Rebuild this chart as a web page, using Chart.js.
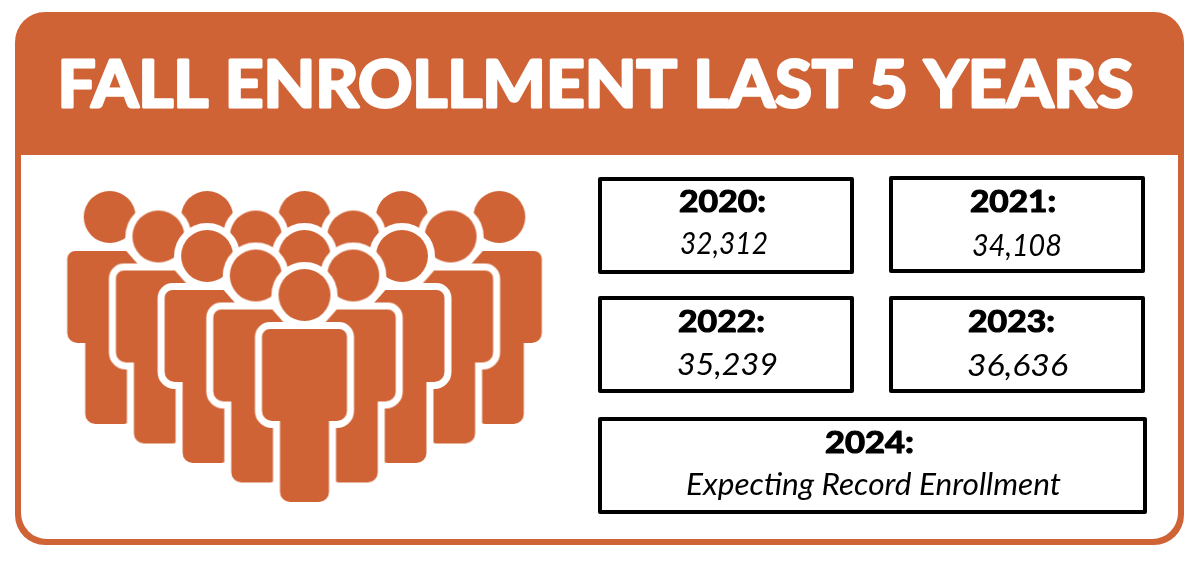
<!DOCTYPE html>
<html>
<head>
<meta charset="utf-8">
<title>Fall Enrollment Last 5 Years</title>
<script src="https://cdn.jsdelivr.net/npm/chart.js@4"></script>
<style>
  html, body { margin: 0; padding: 0; background: #fff; }
  canvas { display: block; }
</style>
</head>
<body>
<canvas id="chart" width="1200" height="564"></canvas>
<script>
// ---- DATA ----
const titleText = 'FALL ENROLLMENT LAST 5 YEARS';
const years = ['2020', '2021', '2022', '2023', '2024'];
const enrollment = [32312, 34108, 35239, 36636, null];
const notes = ['', '', '', '', 'Expecting Record Enrollment'];

// ---- LAYOUT (axis units = page pixels) ----
const ORANGE = '#d06335';
const cards = [
  { x0: 600, x1: 852, y0: 179, y1: 272, yearX: 722.5, yearY: 212, yearW: 87, valX: 724, valY: 254, valW: 88 },
  { x0: 891, x1: 1143, y0: 178, y1: 271, yearX: 1013, yearY: 212, yearW: 86, valX: 1017, valY: 256, valW: 90 },
  { x0: 600, x1: 852, y0: 298, y1: 391, yearX: 721.5, yearY: 332, yearW: 87, valX: 727.5, valY: 375, valW: 101 },
  { x0: 891, x1: 1143, y0: 298, y1: 391, yearX: 1011.5, yearY: 332, yearW: 87, valX: 1017.5, valY: 376, valW: 101 },
  { x0: 600, x1: 1145, y0: 419, y1: 512, yearX: 869.5, yearY: 453, yearW: 89, valX: 873.5, valY: 495, valW: 375 }
];
// crowd rows, back to front. col is in steps from the middle person
const crowdRows = [
  { y: 217, cols: [-4, -2, 0, 2, 4] },
  { y: 236.5, cols: [-3, -1, 1, 3] },
  { y: 256, cols: [-2, 0, 2] },
  { y: 275.5, cols: [-1, 1] },
  { y: 295, cols: [0] }
];
const CROWD_MID = 304.5;
const CROWD_STEP = 48.7;

// ---- PERSON ICONS ----
// kind: 'left' / 'right' have the inner shoulder cut, 'mid' is whole, 'head' has no body
function personIcon(kind) {
  const c = document.createElement('canvas');
  c.width = 130;
  c.height = 440;
  const g = c.getContext('2d');
  g.translate(65, 220);
  if (kind === 'right') g.scale(-1, 1);

  const p = new Path2D();
  p.arc(0, 0, 26, 0, Math.PI * 2);
  if (kind !== 'head') {
    const b = new Path2D();
    b.moveTo(-24.5, 126);
    b.lineTo(-33, 126);
    b.arcTo(-42.5, 126, -42.5, 116, 10);
    b.lineTo(-42.5, 42);
    b.arcTo(-42.5, 34, -34, 34, 8);
    if (kind === 'mid') {
      b.lineTo(34, 34);
      b.arcTo(42.5, 34, 42.5, 42, 8);
      b.lineTo(42.5, 116);
      b.arcTo(42.5, 126, 33, 126, 10);
    } else {
      b.lineTo(16.5, 34);
      b.lineTo(28, 47);
      b.lineTo(28, 126);
    }
    b.lineTo(24.5, 126);
    b.lineTo(24.5, 197);
    b.arcTo(24.5, 207, 14.5, 207, 10);
    b.lineTo(-14.5, 207);
    b.arcTo(-24.5, 207, -24.5, 197, 10);
    b.closePath();
    p.addPath(b);
  }
  g.strokeStyle = '#fff';
  g.lineWidth = 14;
  g.lineJoin = 'round';
  g.stroke(p);
  g.fillStyle = ORANGE;
  g.fill(p);
  return c;
}

const icons = {
  left: personIcon('left'),
  right: personIcon('right'),
  mid: personIcon('mid'),
  head: personIcon('head')
};

// only the outer two diagonals show a body, the others are heads behind them
function crowdIcon(row, col) {
  const onDiagonal = Math.abs(col) === 4 - row;
  if (!onDiagonal) return icons.head;
  if (col === 0) return icons.mid;
  return col < 0 ? icons.left : icons.right;
}

const crowdPoints = [];
const crowdStyles = [];
crowdRows.forEach((r, i) => {
  r.cols.forEach(col => {
    crowdPoints.push({ x: CROWD_MID + col * CROWD_STEP, y: r.y });
    crowdStyles.push(crowdIcon(i, col));
  });
});

// ---- DRAWING HELPERS ----
// squeezes or stretches text to the width it has in the picture, x is its middle
function fitText(ctx, text, x, y, width, thicken) {
  ctx.textAlign = 'center';
  const w = ctx.measureText(text).width;
  ctx.save();
  ctx.translate(x, y);
  ctx.scale(width / w, 1);
  ctx.fillText(text, 0, 0);
  if (thicken) {
    ctx.lineWidth = thicken;
    ctx.strokeText(text, 0, 0);
  }
  ctx.restore();
}

const panelPlugin = {
  id: 'panel',
  beforeDatasetsDraw(chart) {
    const { ctx, scales: { x, y } } = chart;
    const X = v => x.getPixelForValue(v);
    const Y = v => y.getPixelForValue(v);
    ctx.save();

    // frame and header band
    ctx.fillStyle = ORANGE;
    ctx.beginPath();
    ctx.roundRect(X(15), Y(12), X(1184) - X(15), Y(545) - Y(12), 30);
    ctx.fill();
    ctx.fillStyle = '#fff';
    ctx.beginPath();
    ctx.roundRect(X(21), Y(155), X(1178) - X(21), Y(539) - Y(155), [0, 0, 26, 26]);
    ctx.fill();

    // title, thickened with a stroke since no black weight is around
    ctx.fillStyle = '#fff';
    ctx.strokeStyle = '#fff';
    ctx.lineJoin = 'round';
    ctx.font = 'bold 65px Lato';
    ctx.textBaseline = 'alphabetic';
    fitText(ctx, titleText, X(595.5), Y(107), 1076, 3);

    // cards
    years.forEach((yr, i) => {
      const c = cards[i];
      ctx.strokeStyle = '#000';
      ctx.lineWidth = 4;
      ctx.strokeRect(X(c.x0), Y(c.y0), X(c.x1) - X(c.x0), Y(c.y1) - Y(c.y0));
      ctx.fillStyle = '#000';
      ctx.font = 'bold 31px Lato';
      fitText(ctx, yr + ':', X(c.yearX), Y(c.yearY), c.yearW, 1.2);
      const val = enrollment[i] === null ? notes[i] : enrollment[i].toLocaleString('en-US');
      ctx.font = 'italic 400 31px Lato';
      fitText(ctx, val, X(c.valX), Y(c.valY), c.valW);
    });
    ctx.restore();
  }
};

// ---- CHART ----
new Chart(document.getElementById('chart').getContext('2d'), {
  type: 'scatter',
  data: {
    datasets: [{
      label: 'Crowd',
      data: crowdPoints,
      pointStyle: crowdStyles,
      pointRadius: 10,
      showLine: false,
      clip: false
    }]
  },
  options: {
    responsive: false,
    animation: false,
    layout: { padding: 0, autoPadding: false },
    scales: {
      x: { type: 'linear', min: 0, max: 1200, display: false },
      y: { type: 'linear', min: 0, max: 564, reverse: true, display: false }
    },
    plugins: { legend: { display: false }, tooltip: { enabled: false } }
  },
  plugins: [panelPlugin]
});
</script>
</body>
</html>
